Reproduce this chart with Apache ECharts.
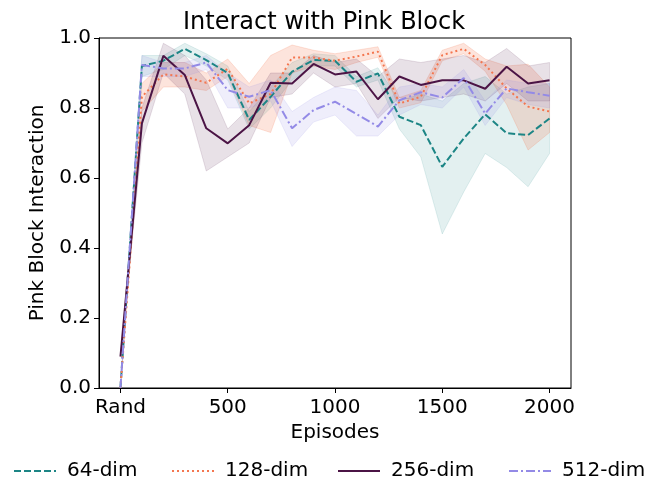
<!DOCTYPE html>
<html>
<head>
<meta charset="utf-8">
<script src="https://cdn.jsdelivr.net/npm/echarts@6/dist/echarts.min.js"></script>
<style>
html,body{margin:0;padding:0;background:#fff;}
#chart{width:648px;height:481px;}
</style>
</head>
<body>
<div id="chart"></div>
<script>
const episodes = [0,100,200,300,400,500,600,700,800,900,1000,1100,1200,1300,1400,1500,1600,1700,1800,1900,2000];
const xTickValues = [0,500,1000,1500,2000];
const xTickLabels = ['Rand','500','1000','1500','2000'];
const seriesNames = ['64-dim','128-dim','256-dim','512-dim'];

const dim64 = [0,0.92,0.935,0.969,0.937,0.90,0.766,0.832,0.904,0.937,0.935,0.875,0.899,0.775,0.751,0.632,0.713,0.782,0.728,0.723,0.77];
const dim64Lo = [0,0.89,0.91,0.95,0.92,0.88,0.74,0.80,0.88,0.92,0.92,0.86,0.88,0.74,0.66,0.44,0.56,0.67,0.63,0.575,0.67];
const dim64Hi = [0,0.95,0.95,0.985,0.955,0.92,0.79,0.86,0.93,0.955,0.95,0.89,0.915,0.82,0.84,0.82,0.87,0.89,0.84,0.86,0.87];

const dim128 = [0,0.832,0.896,0.89,0.872,0.912,0.813,0.84,0.944,0.944,0.935,0.947,0.961,0.813,0.832,0.951,0.969,0.923,0.856,0.804,0.79];
const dim128Lo = [0,0.79,0.86,0.86,0.85,0.89,0.75,0.73,0.90,0.92,0.91,0.93,0.945,0.80,0.815,0.935,0.955,0.905,0.81,0.68,0.73];
const dim128Hi = [0,0.87,0.93,0.93,0.90,0.94,0.87,0.95,0.98,0.965,0.955,0.965,0.975,0.83,0.85,0.965,0.985,0.94,0.92,0.925,0.86];

const dim256 = [0.09,0.756,0.949,0.894,0.742,0.699,0.751,0.872,0.870,0.926,0.896,0.904,0.825,0.89,0.866,0.879,0.879,0.855,0.918,0.87,0.879];
const dim256Lo = [0.09,0.70,0.90,0.84,0.62,0.66,0.70,0.83,0.84,0.90,0.86,0.87,0.77,0.83,0.82,0.83,0.84,0.82,0.87,0.82,0.82];
const dim256Hi = [0.09,0.80,0.985,0.95,0.88,0.74,0.80,0.90,0.90,0.95,0.93,0.94,0.89,0.94,0.93,0.94,0.95,0.93,0.97,0.92,0.93];

const dim512 = [0,0.923,0.913,0.913,0.93,0.851,0.832,0.851,0.742,0.794,0.818,0.783,0.747,0.822,0.845,0.83,0.886,0.784,0.856,0.845,0.835];
const dim512Lo = [0,0.89,0.89,0.89,0.91,0.80,0.80,0.82,0.69,0.76,0.78,0.72,0.72,0.78,0.81,0.80,0.86,0.75,0.83,0.81,0.80];
const dim512Hi = [0,0.95,0.93,0.93,0.95,0.90,0.86,0.88,0.79,0.83,0.86,0.85,0.78,0.86,0.87,0.86,0.91,0.82,0.88,0.87,0.87];

const colors = ['#1c8585','#f4764f','#4b1445','#938ae6'];
const bandColors = ['rgba(28,133,133,0.12)','rgba(244,118,79,0.2)','rgba(75,20,69,0.13)','rgba(147,138,230,0.15)'];
const dashes = [[7,3],[2,3],'solid',[9,3,2,3]];

const means = [dim64,dim128,dim256,dim512];
const los = [dim64Lo,dim128Lo,dim256Lo,dim512Lo];
const his = [dim64Hi,dim128Hi,dim256Hi,dim512Hi];

const chart = echarts.init(document.getElementById('chart'), null, {renderer:'canvas'});
const FONT = 'DejaVu Sans';

function bandSeries(k){
  const lo = los[k], hi = his[k];
  return {
    type:'custom', silent:true, z:1,
    data: episodes.map((x,i)=>[x, lo[i], hi[i]]),
    encode:{x:0, y:[1,2]},
    renderItem:function(params, api){
      if (params.dataIndex !== 0) return null;
      const pts = [];
      for (let i=0;i<episodes.length;i++) pts.push(api.coord([episodes[i], hi[i]]));
      for (let i=episodes.length-1;i>=0;i--) pts.push(api.coord([episodes[i], lo[i]]));
      return {type:'polygon', shape:{points:pts}, style:{fill:bandColors[k], stroke:bandColors[k], lineWidth:1}};
    }
  };
}
function lineSeries(k){
  return {
    type:'line', name:seriesNames[k], z:3+k,
    data: episodes.map((x,i)=>[x, means[k][i]]),
    showSymbol:false, symbol:'none', animation:false,
    lineStyle:{color:colors[k], width:2, type:dashes[k]},
    itemStyle:{color:colors[k]}
  };
}
const series = [];
for (let k=0;k<4;k++){ series.push(bandSeries(k)); series.push(lineSeries(k)); }

const legendLefts = [8,166,332,503];

chart.setOption({
  animation:false,
  backgroundColor:'#fff',
  title:{text:'Interact with Pink Block', left:'center', top:6,
    textStyle:{fontFamily:FONT, fontSize:24, fontWeight:'normal', color:'#000'}},
  legend: seriesNames.map((n,k)=>({
    data:[{name:n}], left:legendLefts[k], top:456, itemWidth:42, itemHeight:14,
    itemStyle:{opacity:0},
    textStyle:{fontFamily:FONT, fontSize:20, color:'#000', padding:[0,0,0,6]}
  })),
  grid:{left:99, right:77, top:38, bottom:93, show:true, borderColor:'#000', borderWidth:1, backgroundColor:'transparent'},
  xAxis:{type:'value', min:-100, max:2100,
    name:'Episodes', nameLocation:'middle', nameGap:31,
    nameTextStyle:{fontFamily:FONT, fontSize:20, color:'#000'},
    axisLine:{show:true, onZero:false, lineStyle:{color:'#000', width:1}},
    axisTick:{show:true, length:5, inside:false, customValues:xTickValues, lineStyle:{color:'#000'}},
    axisLabel:{customValues:xTickValues, margin:10, fontFamily:FONT, fontSize:20, color:'#000',
      formatter:function(v){ const i = xTickValues.indexOf(v); return i>=0 ? xTickLabels[i] : ''; }},
    splitLine:{show:false}},
  yAxis:{type:'value', min:0, max:1, interval:0.2,
    name:'Pink Block Interaction', nameLocation:'middle', nameGap:42, nameRotate:90,
    nameTextStyle:{fontFamily:FONT, fontSize:20, color:'#000'},
    axisLine:{show:true, onZero:false, lineStyle:{color:'#000', width:1}},
    axisTick:{show:true, length:5, inside:false, lineStyle:{color:'#000'}},
    axisLabel:{margin:8, fontFamily:FONT, fontSize:20, color:'#000', formatter:function(v){return v.toFixed(1);}},
    splitLine:{show:false}},
  series: series
});
</script>
</body>
</html>
